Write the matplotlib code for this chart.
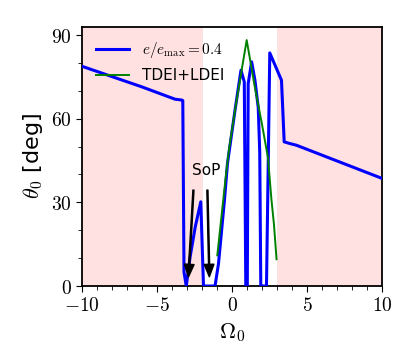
import matplotlib
matplotlib.use("Agg")
import matplotlib.pyplot as plt
from matplotlib.ticker import MultipleLocator, FuncFormatter

plt.rcParams['mathtext.fontset'] = 'cm'

# blue curve: e/e_max = 0.4
omega_blue = [-10, -6.0, -5.9, -3.8, -3.35, -3.28, -3.2, -3.05, -2.79, -2.45, -2.08,
              -1.9, -1.13, -0.9, -0.5, -0.3, 0.2, 0.6, 0.82, 0.92, 1.02, 1.08,
              1.31, 1.53, 1.75, 1.85, 1.92, 2.3, 2.52, 3.3, 3.48, 3.85, 4.29, 10]
theta_blue = [78.8, 71.4, 71.2, 67.0, 66.7, 66.5, 5, 0, 10.5, 21.2, 30.2,
              0, 0, 8, 31, 44, 63, 77.4, 73.2, 0, 0, 72.6,
              80.4, 73.8, 64, 48, 0, 0, 83.6, 73.8, 51.7, 51.1, 50.5, 38.6]

# green curve: TDEI+LDEI
omega_green = [-0.98, -0.8, -0.6, -0.4, -0.2, 0.2, 0.6, 0.98,
               1.5, 2.0, 2.4, 2.63, 2.8, 2.97]
theta_green = [11, 20, 30, 40, 49, 63, 76, 88.2,
               72, 58, 46, 31, 22, 9.6]

pink_regions = [(-10, -1.93), (3.0, 10)]

fig = plt.figure(figsize=(4.07, 3.49), dpi=100)
ax = fig.add_axes([0.2015, 0.1805, 0.737, 0.743])

for a, b in pink_regions:
    ax.axvspan(a, b, color='#ffe1e1', lw=0, zorder=0)

ax.plot(omega_blue, theta_blue, color='blue', lw=2.2, label=r'$e/e_{\max}=0.4$', zorder=3)
ax.plot(omega_green, theta_green, color='green', lw=1.4, label='TDEI+LDEI', zorder=4)

arrow = dict(facecolor='black', edgecolor='black', width=0.8, headwidth=7,
             headlength=9, shrink=0)
ax.annotate('', xy=(-2.9, 3.3), xytext=(-2.57, 34.4), arrowprops=arrow)
ax.annotate('', xy=(-1.51, 3.3), xytext=(-1.64, 34.4), arrowprops=arrow)
ax.text(-1.7, 41.5, 'SoP', fontsize=11, ha='center', va='center')

ax.set_xlim(-10, 10)
ax.set_ylim(0, 93)
ax.xaxis.set_major_locator(MultipleLocator(5))
ax.xaxis.set_minor_locator(MultipleLocator(1))
ax.yaxis.set_major_locator(MultipleLocator(30))
ax.yaxis.set_minor_locator(MultipleLocator(10))
fmt = FuncFormatter(lambda v, p: r'$%g$' % v)
ax.xaxis.set_major_formatter(fmt)
ax.yaxis.set_major_formatter(fmt)
ax.tick_params(which='both', direction='out', top=False, right=False, labelsize=14)
ax.tick_params(which='major', length=4)
ax.tick_params(which='minor', length=3)
for s in ax.spines.values():
    s.set_linewidth(1.3)

ax.set_xlabel(r'$\Omega_0$', fontsize=16)
ax.set_ylabel(r'$\theta_0$ [deg]', fontsize=16)

ax.legend(loc='upper left', frameon=False, fontsize=11, handlelength=2.2)

fig.savefig('out.png', dpi=100)
